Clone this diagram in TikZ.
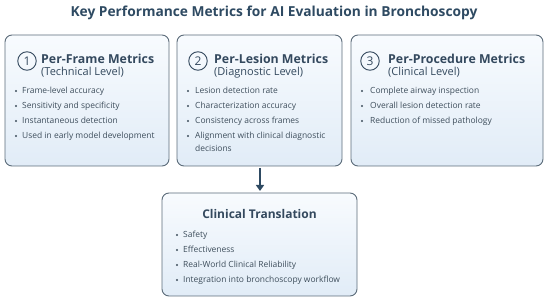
\documentclass[tikz,border=0pt]{standalone}
\usepackage{fontspec}
\setmainfont{Open Sans}
\usetikzlibrary{arrows.meta}
\definecolor{titlec}{HTML}{2E4A62}
\definecolor{headc}{HTML}{34495E}
\definecolor{bodyc}{HTML}{3E4E5C}
\definecolor{borderc}{HTML}{5B6B79}
\definecolor{topc}{HTML}{F8FBFE}
\definecolor{botc}{HTML}{E1ECF7}
\tikzset{
  x=1pt, y=-1pt,
  panel/.style={draw=borderc, line width=0.9pt, rounded corners=7pt, top color=topc, bottom color=botc},
  num/.style={circle, draw=headc, line width=0.9pt, minimum size=18.5pt, inner sep=0pt, font=\fontsize{12}{12}\selectfont, text=headc},
  head/.style={anchor=base west, inner sep=0pt, font=\fontsize{12.35}{16}\selectfont\bfseries, text=headc},
  sub/.style={anchor=base west, inner sep=0pt, font=\fontsize{11}{13}\selectfont, text=headc},
  item/.style={anchor=base west, inner sep=0pt, font=\fontsize{8.45}{10}\selectfont, text=bodyc},
  dot/.style={circle, fill=bodyc, inner sep=0pt, minimum size=2.2pt},
  flow/.style={-{Triangle[length=6pt,width=8pt]}, line width=1.6pt, draw=titlec}
}
\begin{document}
\begin{tikzpicture}
\useasboundingbox (0,0) rectangle (550,302);
\node[font=\fontsize{13.75}{18}\selectfont\bfseries, text=titlec, anchor=base, inner sep=0pt] (title) at (274,17) {Key Performance Metrics for AI Evaluation in Bronchoscopy};

% panels
\path[panel] (5,35) rectangle (169,166);
\path[panel] (177,35) rectangle (342,166);
\path[panel] (351,35) rectangle (543,166);
\path[panel] (162,193) rectangle (357,296);

% panel 1
\node[num] (n1) at (27,61) {1};
\node[head] (h1) at (41,64) {Per-Frame Metrics};
\node[sub] (s1) at (41,76) {(Technical Level)};
\foreach \t [count=\i] in {Frame-level accuracy, Sensitivity and specificity, Instantaneous detection, Used in early model development}{
  \node[dot] (d1\i) at (16,{79+15*\i-3}) {};
  \node[item] (a1\i) at (22,{79+15*\i}) {\t};
}

% panel 2
\node[num] (n2) at (198,61) {2};
\node[head] (h2) at (214,64) {Per-Lesion Metrics};
\node[sub] (s2) at (214,76) {(Diagnostic Level)};
\foreach \t [count=\i] in {Lesion detection rate, Characterization accuracy, Consistency across frames, Alignment with clinical diagnostic}{
  \node[dot] (d2\i) at (188,{79+15*\i-3}) {};
  \node[item] (a2\i) at (195,{79+15*\i}) {\t};
}
\node[item] (a25) at (195,152) {decisions};

% panel 3
\node[num] (n3) at (370,61) {3};
\node[head] (h3) at (388,64) {Per-Procedure Metrics};
\node[sub] (s3) at (388,76) {(Clinical Level)};
\foreach \t [count=\i] in {Complete airway inspection, Overall lesion detection rate, Reduction of missed pathology}{
  \node[dot] (d3\i) at (362,{79+15*\i-3}) {};
  \node[item] (a3\i) at (370,{79+15*\i}) {\t};
}

% panel 4
\node[font=\fontsize{12}{16}\selectfont\bfseries, text=headc, anchor=base, inner sep=0pt] (h4) at (259.5,218.5) {Clinical Translation};
\foreach \t [count=\i] in {Safety, Effectiveness, Real-World Clinical Reliability, Integration into bronchoscopy workflow}{
  \node[dot] (d4\i) at (177,{223+15*\i-3}) {};
  \node[item] (a4\i) at (183,{223+15*\i}) {\t};
}

\coordinate (arrS) at (260,168);
\coordinate (arrE) at (260,191);
\draw[flow] (arrS) -- (arrE);
\end{tikzpicture}
\end{document}
